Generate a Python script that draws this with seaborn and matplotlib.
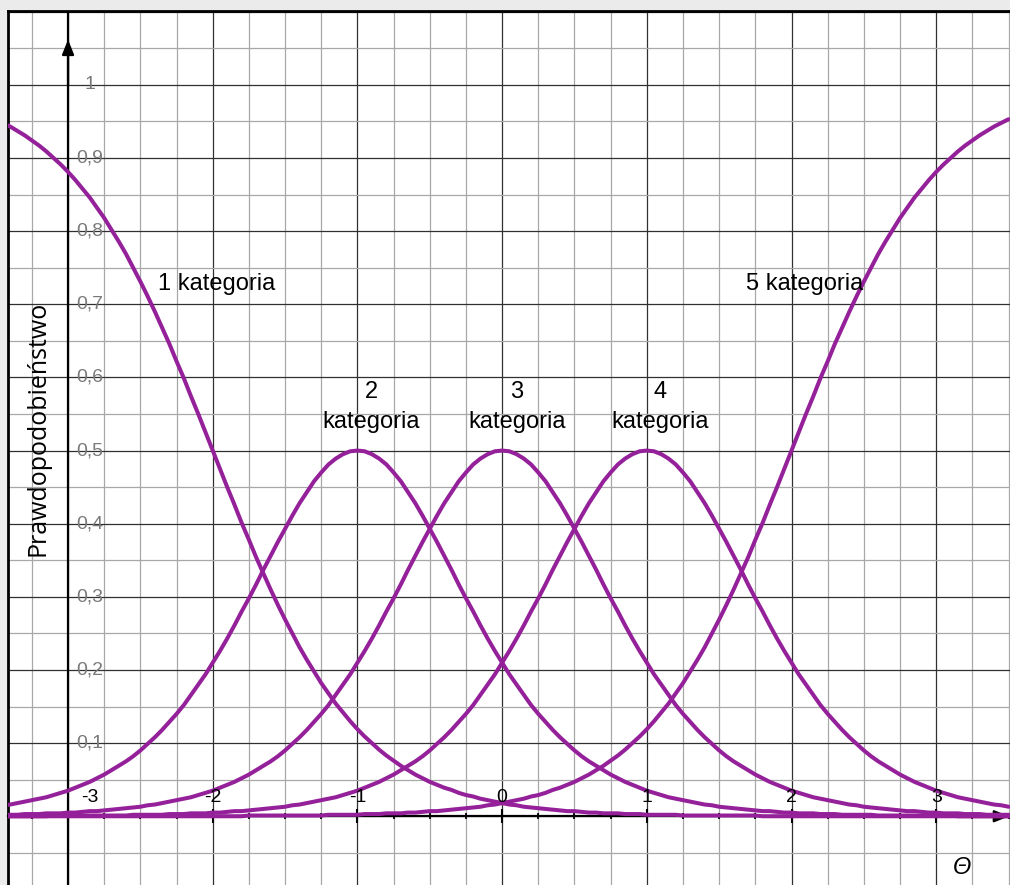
import numpy as np
import pandas as pd
import matplotlib
matplotlib.use("Agg")
import matplotlib.pyplot as plt
from matplotlib.ticker import MultipleLocator
import seaborn as sns

# Ability scale (theta) at which the category probabilities are tabulated
theta = np.round(np.linspace(-3.5, 3.5, 141), 2)

# Category response probabilities (five ordered categories)
kat1 = [0.953, 0.948, 0.943, 0.937, 0.931, 0.924, 0.917, 0.909, 0.900, 0.891,
        0.881, 0.870, 0.858, 0.846, 0.832, 0.818, 0.802, 0.786, 0.769, 0.750,
        0.731, 0.711, 0.690, 0.668, 0.646, 0.622, 0.599, 0.574, 0.550, 0.525,
        0.500, 0.475, 0.450, 0.426, 0.401, 0.378, 0.354, 0.332, 0.310, 0.289,
        0.269, 0.250, 0.231, 0.214, 0.198, 0.182, 0.168, 0.154, 0.142, 0.130,
        0.119, 0.109, 0.100, 0.091, 0.083, 0.076, 0.069, 0.063, 0.057, 0.052,
        0.047, 0.043, 0.039, 0.036, 0.032, 0.029, 0.027, 0.024, 0.022, 0.020,
        0.018, 0.016, 0.015, 0.013, 0.012, 0.011, 0.010, 0.009, 0.008, 0.007,
        0.007, 0.006, 0.005, 0.005, 0.004, 0.004, 0.004, 0.003, 0.003, 0.003,
        0.002, 0.002, 0.002, 0.002, 0.002, 0.001, 0.001, 0.001, 0.001, 0.001,
        0.001, 0.001, 0.001, 0.001, 0.001, 0.001, 0.000, 0.000, 0.000, 0.000,
        0.000, 0.000, 0.000, 0.000, 0.000, 0.000, 0.000, 0.000, 0.000, 0.000,
        0.000, 0.000, 0.000, 0.000, 0.000, 0.000, 0.000, 0.000, 0.000, 0.000,
        0.000, 0.000, 0.000, 0.000, 0.000, 0.000, 0.000, 0.000, 0.000, 0.000,
        0.000]
kat2 = [0.013, 0.015, 0.016, 0.018, 0.020, 0.022, 0.024, 0.026, 0.029, 0.032,
        0.035, 0.039, 0.043, 0.047, 0.052, 0.057, 0.063, 0.069, 0.075, 0.082,
        0.090, 0.099, 0.108, 0.118, 0.129, 0.140, 0.152, 0.166, 0.180, 0.194,
        0.210, 0.226, 0.243, 0.261, 0.280, 0.298, 0.317, 0.337, 0.356, 0.375,
        0.393, 0.411, 0.428, 0.443, 0.458, 0.470, 0.481, 0.489, 0.495, 0.499,
        0.500, 0.499, 0.495, 0.489, 0.481, 0.470, 0.458, 0.443, 0.428, 0.411,
        0.393, 0.375, 0.356, 0.337, 0.317, 0.298, 0.280, 0.261, 0.243, 0.226,
        0.210, 0.194, 0.180, 0.166, 0.152, 0.140, 0.129, 0.118, 0.108, 0.099,
        0.090, 0.082, 0.075, 0.069, 0.063, 0.057, 0.052, 0.047, 0.043, 0.039,
        0.035, 0.032, 0.029, 0.026, 0.024, 0.022, 0.020, 0.018, 0.016, 0.015,
        0.013, 0.012, 0.011, 0.010, 0.009, 0.008, 0.007, 0.007, 0.006, 0.005,
        0.005, 0.004, 0.004, 0.004, 0.003, 0.003, 0.003, 0.002, 0.002, 0.002,
        0.002, 0.002, 0.001, 0.001, 0.001, 0.001, 0.001, 0.001, 0.001, 0.001,
        0.001, 0.001, 0.001, 0.000, 0.000, 0.000, 0.000, 0.000, 0.000, 0.000,
        0.000]
kat3 = [0.002, 0.002, 0.002, 0.002, 0.003, 0.003, 0.003, 0.004, 0.004, 0.004,
        0.005, 0.005, 0.006, 0.007, 0.007, 0.008, 0.009, 0.010, 0.011, 0.012,
        0.013, 0.015, 0.016, 0.018, 0.020, 0.022, 0.024, 0.026, 0.029, 0.032,
        0.035, 0.039, 0.043, 0.047, 0.052, 0.057, 0.063, 0.069, 0.075, 0.082,
        0.090, 0.099, 0.108, 0.118, 0.129, 0.140, 0.152, 0.166, 0.180, 0.194,
        0.210, 0.226, 0.243, 0.261, 0.280, 0.298, 0.317, 0.337, 0.356, 0.375,
        0.393, 0.411, 0.428, 0.443, 0.458, 0.470, 0.481, 0.489, 0.495, 0.499,
        0.500, 0.499, 0.495, 0.489, 0.481, 0.470, 0.458, 0.443, 0.428, 0.411,
        0.393, 0.375, 0.356, 0.337, 0.317, 0.298, 0.280, 0.261, 0.243, 0.226,
        0.210, 0.194, 0.180, 0.166, 0.152, 0.140, 0.129, 0.118, 0.108, 0.099,
        0.090, 0.082, 0.075, 0.069, 0.063, 0.057, 0.052, 0.047, 0.043, 0.039,
        0.035, 0.032, 0.029, 0.026, 0.024, 0.022, 0.020, 0.018, 0.016, 0.015,
        0.013, 0.012, 0.011, 0.010, 0.009, 0.008, 0.007, 0.007, 0.006, 0.005,
        0.005, 0.004, 0.004, 0.004, 0.003, 0.003, 0.003, 0.002, 0.002, 0.002,
        0.002]
kat4 = [0.000, 0.000, 0.000, 0.000, 0.000, 0.000, 0.000, 0.000, 0.001, 0.001,
        0.001, 0.001, 0.001, 0.001, 0.001, 0.001, 0.001, 0.001, 0.001, 0.002,
        0.002, 0.002, 0.002, 0.002, 0.003, 0.003, 0.003, 0.004, 0.004, 0.004,
        0.005, 0.005, 0.006, 0.007, 0.007, 0.008, 0.009, 0.010, 0.011, 0.012,
        0.013, 0.015, 0.016, 0.018, 0.020, 0.022, 0.024, 0.026, 0.029, 0.032,
        0.035, 0.039, 0.043, 0.047, 0.052, 0.057, 0.063, 0.069, 0.075, 0.082,
        0.090, 0.099, 0.108, 0.118, 0.129, 0.140, 0.152, 0.166, 0.180, 0.194,
        0.210, 0.226, 0.243, 0.261, 0.280, 0.298, 0.317, 0.337, 0.356, 0.375,
        0.393, 0.411, 0.428, 0.443, 0.458, 0.470, 0.481, 0.489, 0.495, 0.499,
        0.500, 0.499, 0.495, 0.489, 0.481, 0.470, 0.458, 0.443, 0.428, 0.411,
        0.393, 0.375, 0.356, 0.337, 0.317, 0.298, 0.280, 0.261, 0.243, 0.226,
        0.210, 0.194, 0.180, 0.166, 0.152, 0.140, 0.129, 0.118, 0.108, 0.099,
        0.090, 0.082, 0.075, 0.069, 0.063, 0.057, 0.052, 0.047, 0.043, 0.039,
        0.035, 0.032, 0.029, 0.026, 0.024, 0.022, 0.020, 0.018, 0.016, 0.015,
        0.013]
kat5 = [0.000,
        0.000, 0.000, 0.000, 0.000, 0.000, 0.000, 0.000, 0.000, 0.000, 0.000,
        0.000, 0.000, 0.000, 0.000, 0.000, 0.000, 0.000, 0.000, 0.000, 0.000,
        0.000, 0.000, 0.000, 0.000, 0.000, 0.000, 0.000, 0.000, 0.000, 0.000,
        0.000, 0.000, 0.000, 0.000, 0.001, 0.001, 0.001, 0.001, 0.001, 0.001,
        0.001, 0.001, 0.001, 0.001, 0.001, 0.002, 0.002, 0.002, 0.002, 0.002,
        0.003, 0.003, 0.003, 0.004, 0.004, 0.004, 0.005, 0.005, 0.006, 0.007,
        0.007, 0.008, 0.009, 0.010, 0.011, 0.012, 0.013, 0.015, 0.016, 0.018,
        0.020, 0.022, 0.024, 0.027, 0.029, 0.032, 0.036, 0.039, 0.043, 0.047,
        0.052, 0.057, 0.063, 0.069, 0.076, 0.083, 0.091, 0.100, 0.109, 0.119,
        0.130, 0.142, 0.154, 0.168, 0.182, 0.198, 0.214, 0.231, 0.250, 0.269,
        0.289, 0.310, 0.332, 0.354, 0.378, 0.401, 0.426, 0.450, 0.475, 0.500,
        0.525, 0.550, 0.574, 0.599, 0.622, 0.646, 0.668, 0.690, 0.711, 0.731,
        0.750, 0.769, 0.786, 0.802, 0.818, 0.832, 0.846, 0.858, 0.870, 0.881,
        0.891, 0.900, 0.909, 0.917, 0.924, 0.931, 0.937, 0.943, 0.948, 0.953]

categories = ["1", "2", "3", "4", "5"]
series = [kat1, kat2, kat3, kat4, kat5]
for s in series:
    assert len(s) == len(theta), len(s)

x_tick_values = [-3, -2, -1, 0, 1, 2, 3]
x_tick_labels = ["-3", "-2", "-1", "0", "1", "2", "3"]
y_tick_values = [0.1, 0.2, 0.3, 0.4, 0.5, 0.6, 0.7, 0.8, 0.9, 1.0]
y_tick_labels = ["0,1", "0,2", "0,3", "0,4", "0,5", "0,6", "0,7", "0,8", "0,9", "1"]

y_label = "Prawdopodobieństwo"
x_label = "Θ"
label_word = "kategoria"

df = pd.DataFrame({
    "theta": np.tile(theta, len(series)),
    "p": np.concatenate([np.asarray(s) for s in series]),
    "kategoria": np.repeat(categories, len(theta)),
})

sns.set_theme(style="white")
plt.rcParams["font.family"] = ["Liberation Sans", "DejaVu Sans"]

W, H = 1010, 885
fig = plt.figure(figsize=(W / 100, H / 100), dpi=100, facecolor="#ebebeb")
ax = fig.add_axes([8 / W, 0, 1 - 8 / W, (H - 11) / H])
ax.set_facecolor("white")
ax.set_xlim(-3.415, 3.51)
ax.set_ylim(-0.094, 1.101)

purple = "#94219a"
sns.lineplot(data=df, x="theta", y="p", units="kategoria", estimator=None,
             color=purple, linewidth=2.9, sort=False, ax=ax, zorder=4,
             legend=False, solid_joinstyle="round", solid_capstyle="round")

# graph-paper grid
ax.xaxis.set_major_locator(MultipleLocator(1))
ax.xaxis.set_minor_locator(MultipleLocator(0.25))
ax.yaxis.set_major_locator(MultipleLocator(0.1))
ax.yaxis.set_minor_locator(MultipleLocator(0.05))
ax.set_axisbelow(True)
ax.grid(which="minor", color="#a8a8a8", linewidth=0.9)
ax.grid(which="major", color="#303030", linewidth=0.9)

# frame: top and left border, bottom spine serves as the theta axis
for side in ("top", "left"):
    ax.spines[side].set_color("black")
    ax.spines[side].set_linewidth(2.0)
ax.spines["right"].set_visible(False)
ax.spines["bottom"].set_position(("data", 0))
ax.spines["bottom"].set_color("black")
ax.spines["bottom"].set_linewidth(1.6)
ax.spines["bottom"].set_zorder(3)

ax.tick_params(axis="x", which="major", direction="inout", length=9.5,
               width=1.5, color="black", labelbottom=False, bottom=True)
ax.tick_params(axis="x", which="minor", direction="inout", length=5,
               width=1.3, color="black", bottom=True)
ax.tick_params(axis="y", which="both", length=0, labelleft=False)
ax.set_xlabel("")
ax.set_ylabel("")

# vertical probability axis with arrowheads on both axes
ax.axvline(-3, color="black", linewidth=1.6, zorder=3)
ax.annotate("", xy=(-3, 1.062), xytext=(-3, 1.0),
            arrowprops=dict(arrowstyle="-|>,head_length=0.75,head_width=0.3",
                            color="black", lw=1.6, shrinkA=0, shrinkB=0),
            zorder=5)
ax.annotate("", xy=(3.505, 0), xytext=(3.3, 0),
            arrowprops=dict(arrowstyle="-|>,head_length=0.75,head_width=0.3",
                            color="black", lw=1.6, shrinkA=0, shrinkB=0),
            zorder=3)

# tick labels drawn inside the plotting area
for v, lab in zip(x_tick_values, x_tick_labels):
    xpos = v + 0.15 if v == -3 else v
    ax.text(xpos, 0.02, lab, ha="center", va="baseline", fontsize=14,
            color="black", zorder=5)
for v, lab in zip(y_tick_values, y_tick_labels):
    ax.text(-2.848, v, lab, ha="center", va="center", fontsize=14,
            color="#7a7a7a", zorder=5)

ax.text(-3.207, 0.53, y_label, rotation=90, ha="center", va="center",
        fontsize=18, family=["Open Sans", "DejaVu Sans"], color="black")
ax.text(3.175, -0.070, x_label, ha="center", va="center", fontsize=17,
        style="italic", color="black")

# category labels
ax.text(-1.974, 0.72, f"{categories[0]} {label_word}", ha="center",
        va="baseline", fontsize=17, color="black", zorder=5)
ax.text(2.093, 0.72, f"{categories[4]} {label_word}", ha="center",
        va="baseline", fontsize=17, color="black", zorder=5)
for cat, xc in zip(categories[1:4], [-0.903, 0.103, 1.09]):
    ax.text(xc, 0.572, cat, ha="center", va="baseline", fontsize=17,
            color="black", zorder=5)
    ax.text(xc, 0.531, label_word, ha="center", va="baseline", fontsize=17,
            color="black", zorder=5)

fig.savefig("out.png", dpi=100, facecolor=fig.get_facecolor())
